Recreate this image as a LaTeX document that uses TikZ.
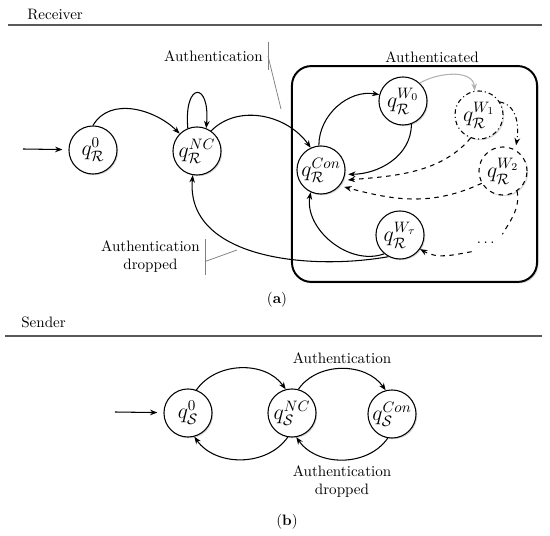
\documentclass[tikz,border=0pt]{standalone}
\usepackage{amsmath, amssymb}
\usepackage{tikz}
\usetikzlibrary{arrows.meta, shadows}

\begin{document}
\begin{tikzpicture}[
    x=0.0233cm, y=0.0233cm,
    every node/.style={font=\normalsize},
    state/.style={draw, circle, line width=0.7pt, fill=white, inner sep=0pt,
                  minimum size=1.12cm, font=\Large,
                  drop shadow={shadow xshift=0.8pt, shadow yshift=-0.8pt, opacity=0.3}},
    ghost/.style={state, dashed},
    ghostdd/.style={state, dash dot},
    authbox/.style={draw, line width=1.3pt, fill=white, rounded corners=0.45cm,
                    minimum width=5.71cm, minimum height=5.03cm,
                    drop shadow={shadow xshift=1pt, shadow yshift=-1pt, opacity=0.3}},
    arrow/.style={-{Stealth[length=1.7mm, width=1.3mm]}, line width=0.7pt},
    darrow/.style={arrow, dashed},
    callout/.style={gray, line width=0.5pt},
    rule/.style={gray!70!black, line width=0.7pt}
]
    \useasboundingbox (0,0) rectangle (550,-536);

    % Receiver
    \node[anchor=west] (recvT) at (22,-15) {Receiver};
    \draw[rule] (8,-25) -- (542,-25);

    \node[authbox] (authbox) at (414.5,-174) {};
    \node (authd) at (432,-57) {Authenticated};

    \node[state] (q0R) at (93,-150) {$q_{\mathcal{R}}^{0}$};
    \node[state] (qNCR) at (197,-151) {$q_{\mathcal{R}}^{NC}$};
    \node[state] (qConR) at (321,-170) {$q_{\mathcal{R}}^{Con}$};
    \node[state] (qW0) at (403,-101) {$q_{\mathcal{R}}^{W_0}$};
    \node[ghostdd] (qW1) at (479,-115) {$q_{\mathcal{R}}^{W_1}$};
    \node[ghost] (qW2) at (503,-171) {$q_{\mathcal{R}}^{W_2}$};
    \node[state] (qWt) at (400,-235) {$q_{\mathcal{R}}^{W_\tau}$};
    \node (dotsR) at (487,-243) {$\cdots$};
    \coordinate (inR) at (23,-149);

    \node[anchor=east] (authR) at (268,-56) {Authentication};
    \coordinate (authRtip) at (281,-109);
    \node[anchor=east, align=center] (dropR) at (205,-257) {Authentication\\dropped};
    \coordinate (dropRtip) at (237,-250);

    \draw[arrow, shorten >=4pt] (inR) -- (q0R);
    \draw[arrow] (q0R.north) to[out=60,in=135] (qNCR.135);
    \draw[arrow] (qNCR.112) .. controls +(95:1.1cm) and +(85:1.1cm) .. (qNCR.68);
    \draw[arrow] (qNCR.55) to[out=45,in=125] (qConR.115);
    \draw[arrow] (qConR.95) to[out=90,in=170] (qW0.165);
    \draw[arrow, shorten >=2pt] (qW0.-70) to[out=-90,in=0] (qConR.-10);
    \draw[arrow, gray!60] (qW0.47) to[out=30,in=95] (qW1.100);
    \draw[arrow, dash dot, shorten >=3pt] (qW1.32) to[out=-10,in=80] (qW2.60);
    \draw[darrow, shorten >=3pt] (qW1.-110) to[out=-130,in=5,looseness=0.9] (qConR.-25);
    \draw[darrow, shorten >=3pt] (qW2.-150) to[out=-155,in=-15] (qConR.-40);
    \draw[dashed, line width=0.7pt] (qW2.-55) to[out=-80,in=60] (dotsR.north east);
    \draw[darrow] (dotsR.south west) to[out=-170,in=-30] (qWt.-35);
    \draw[arrow] (qWt.-130) to[out=-160,in=-100] (qConR.-115);
    \draw[arrow] (qWt.-118) to[out=-170,in=-95] (qNCR.-100);

    \draw[callout] ([yshift=2pt]authR.north east) -- ([yshift=-2pt]authR.south east);
    \draw[callout] (authR.east) -- (authRtip);
    \draw[callout] ([yshift=-2pt]dropR.north east) -- ([yshift=2pt]dropR.south east);
    \draw[callout] ([yshift=-3pt]dropR.east) -- (dropRtip);

    \node (capA) at (277,-300) {(\textbf{a})};

    % Sender
    \node[anchor=west] (sendT) at (16,-322) {Sender};
    \draw[rule] (5,-336) -- (542,-336);

    \node[state] (qS0) at (188,-413) {$q_{\mathcal{S}}^{0}$};
    \node[state] (qNCS) at (292,-413) {$q_{\mathcal{S}}^{NC}$};
    \node[state] (qConS) at (392,-414) {$q_{\mathcal{S}}^{Con}$};
    \coordinate (inS) at (115,-412);

    \draw[arrow, shorten >=4pt] (inS) -- (qS0);
    \draw[arrow] (qS0.70) to[out=55,in=125] (qNCS.105);
    \draw[arrow] (qNCS.75) to[out=55,in=125] node[above]{Authentication} (qConS.105);
    \draw[arrow] (qNCS.-100) to[out=-125,in=-55] (qS0.-75);
    \draw[arrow] (qConS.-100) to[out=-125,in=-55]
        node[below, align=center]{Authentication\\dropped} (qNCS.-80);

    \node (capB) at (287,-522) {(\textbf{b})};
\end{tikzpicture}
\end{document}
